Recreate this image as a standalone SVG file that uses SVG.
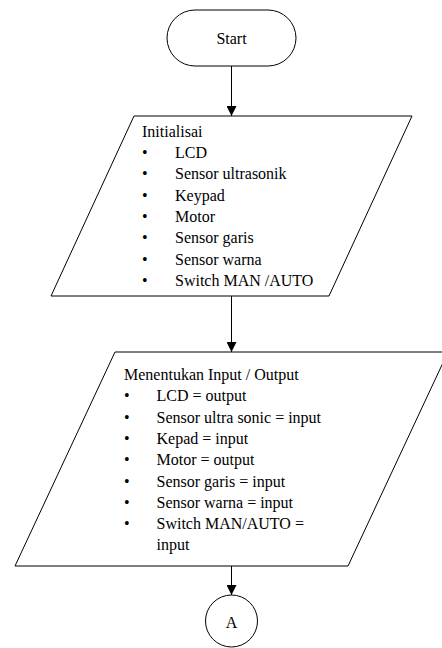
<svg xmlns="http://www.w3.org/2000/svg" width="442" height="648" viewBox="0 0 442 648">
<style>
.shape{fill:#fff;stroke:#000;stroke-width:1}
.t{font-family:"Liberation Serif","Times New Roman",serif;font-size:16px;fill:#000}
.c{text-anchor:middle}
.conn{stroke:#000;stroke-width:1;fill:none}
</style>
<defs>
<marker id="arr" markerUnits="userSpaceOnUse" markerWidth="10" markerHeight="10" refX="10" refY="5" orient="auto">
<path d="M0,0 L10,5 L0,10 z" fill="#000"/>
</marker>
</defs>
<rect width="442" height="648" fill="#fff"/>
<g id="start">
<rect class="shape" x="167" y="10" width="129" height="56" rx="28" ry="28"/>
<text class="t c" x="231.5" y="44">Start</text>
</g>
<g id="init">
<polygon class="shape" points="134,116 412,116 329,296 51,296"/>
<text class="t" x="142" y="137">Initialisai</text>
<g class="t">
<text x="142" y="158">•</text><text x="175" y="158">LCD</text>
<text x="142" y="179.3">•</text><text x="175" y="179.3">Sensor ultrasonik</text>
<text x="142" y="200.6">•</text><text x="175" y="200.6">Keypad</text>
<text x="142" y="221.9">•</text><text x="175" y="221.9">Motor</text>
<text x="142" y="243.2">•</text><text x="175" y="243.2">Sensor garis</text>
<text x="142" y="264.5">•</text><text x="175" y="264.5">Sensor warna</text>
<text x="142" y="285.8">•</text><text x="175" y="285.8">Switch MAN /AUTO</text>
</g>
</g>
<g id="io">
<polygon class="shape" points="115,352 448,352 348,566 15,566"/>
<text class="t" x="124" y="380">Menentukan Input / Output</text>
<g class="t">
<text x="124" y="401.3">•</text><text x="156.5" y="401.3">LCD = output</text>
<text x="124" y="422.6">•</text><text x="156.5" y="422.6">Sensor ultra sonic = input</text>
<text x="124" y="443.9">•</text><text x="156.5" y="443.9">Kepad = input</text>
<text x="124" y="465.2">•</text><text x="156.5" y="465.2">Motor = output</text>
<text x="124" y="486.5">•</text><text x="156.5" y="486.5">Sensor garis = input</text>
<text x="124" y="507.8">•</text><text x="156.5" y="507.8">Sensor warna = input</text>
<text x="124" y="529.1">•</text><text x="156.5" y="529.1">Switch MAN/AUTO =</text>
<text x="156.5" y="550.4">input</text>
</g>
</g>
<g id="connA">
<circle class="shape" cx="231.5" cy="621" r="26"/>
<text class="t c" x="231.5" y="627.5">A</text>
</g>
<g id="connectors">
<line class="conn" x1="231.5" y1="66" x2="231.5" y2="116" marker-end="url(#arr)"/>
<line class="conn" x1="231.5" y1="296" x2="231.5" y2="352" marker-end="url(#arr)"/>
<line class="conn" x1="231.5" y1="566" x2="231.5" y2="595" marker-end="url(#arr)"/>
</g>
</svg>
